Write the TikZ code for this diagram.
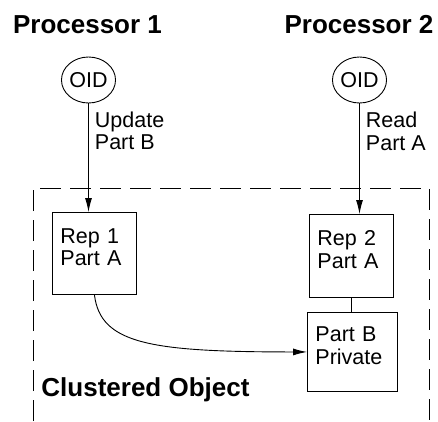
\documentclass[tikz,border=0pt]{standalone}
\usepackage{fontspec}
\setmainfont{Liberation Sans}
\usetikzlibrary{arrows.meta,shapes.geometric}
\newcommand\lblfont{\fontsize{21.5pt}{22.5pt}\selectfont}
\newcommand\hdfont{\fontsize{26pt}{28pt}\selectfont\bfseries}
\tikzset{
  heading/.style={inner sep=0pt,font=\hdfont},
  oid/.style={ellipse,draw,inner sep=0pt,minimum height=46pt,font=\lblfont},
  rep/.style={draw,anchor=north west,align=left,inner xsep=8pt,font=\lblfont,
    execute at end node={\rule[-13pt]{0pt}{13pt}}},
  lbl/.style={right,align=left,inner xsep=6pt,font=\lblfont},
  frame/.style={dash pattern=on 21pt off 9pt},
}
\begin{document}
\begin{tikzpicture}[x=1pt,y=-1pt,line width=0.9pt,>={Latex[length=14pt,width=7pt]}]
\useasboundingbox (0,0) rectangle (438,421);
%processors
\node[heading,anchor=base] (proc1) at (87.5,33) {Processor 1};
\node[heading,anchor=base] (proc2) at (359,33) {Processor 2};
\node[oid,minimum width=54pt] (oid1) at (88.5,80) {OID};
\node[oid,minimum width=48pt] (oid2) at (359.5,80) {OID};
%clustered object
\draw[frame] (33,421)--(33,188)--(429,188)--(429,421);
\node[heading,anchor=base west] (clobj) at (41,396) {Clustered Object};
\node[rep,text width=68pt,minimum height=82pt] (rep1) at (52,212) {Rep 1\\Part A};
\node[rep,text width=68pt,minimum height=83pt] (rep2) at (309,214) {Rep 2\\Part A};
\node[rep,text width=74pt,minimum height=79pt] (partb) at (307,312) {Part B\\Private};
%calls
\draw[->] (oid1)--(oid1 |- rep1.north) node[lbl,pos=0.25]{Update\\Part B};
\draw[->] (oid2)--(oid2 |- rep2.north) node[lbl,pos=0.25]{Read\\Part A};
\draw (rep2.south)--(rep2.south |- partb.north);
\draw[->] (rep1.south) .. controls +(6,49) and +(-157,0) .. (partb.west);
\end{tikzpicture}
\end{document}
